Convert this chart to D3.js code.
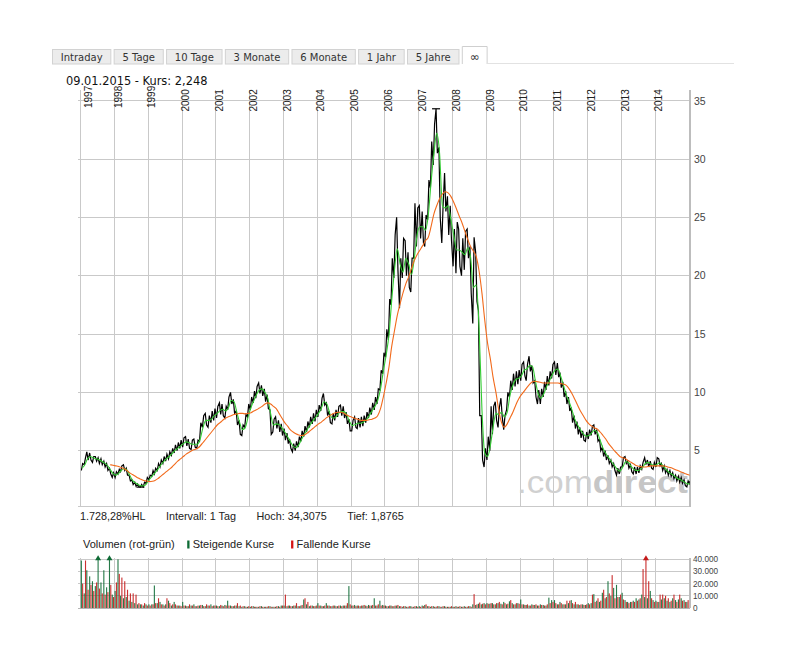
<!DOCTYPE html>
<html><head><meta charset="utf-8">
<script src="https://cdn.jsdelivr.net/npm/d3@7"></script>
<style>body{margin:0;background:#fff;} svg{display:block}</style>
</head><body>
<svg id="c" width="796" height="658"></svg>
<script>
// ---------- data ----------
const tabs = ["Intraday","5 Tage","10 Tage","3 Monate","6 Monate","1 Jahr","5 Jahre","∞"];
const activeTab = "∞";
const headerText = "09.01.2015 - Kurs: 2,248";
const stats = ["1.728,28%HL","Intervall: 1 Tag","Hoch: 34,3075","Tief: 1,8765"];
const legendTitle = "Volumen (rot-grün)";
const legendItems = ["Steigende Kurse","Fallende Kurse"];
const watermark = [".com","direct"];
const hoch = 34.3075, tief = 1.8765;
const years = d3.range(1997, 2015);
const priceTicks = [5,10,15,20,25,30,35];
const volTicks = [10000,20000,30000,40000];
const volLabelTicks = [0,10000,20000,30000,40000];
const firstMonth = [1997, 0];
const lastDay = [2015, 0, 9];

// monthly high / low of the daily price, Jan 1997 .. Jan 2015
const priceHi = [
 3.9,4.4,4.9,4.8,4.5,4.5,4.4,4.3,4.1,3.9,3.5,3.1,
 3.2,3.4,3.7,3.8,3.5,2.9,2.5,2.3,2.15,2.1,2.3,2.7,
 2.9,3.3,3.5,3.9,4.2,4.5,4.7,4.9,5.2,5.5,5.7,5.9,
 6.1,6.2,6.0,5.9,6.0,5.9,7.4,8.0,8.2,8.0,8.4,8.6,
 8.8,9.1,9.0,8.8,9.6,10.0,9.4,8.4,7.6,7.2,8.1,9.0,
 9.6,10.1,10.5,10.8,10.6,10.3,9.8,8.5,7.7,7.9,7.6,7.3,
 6.9,6.5,6.0,5.6,5.8,6.2,6.7,7.1,7.5,7.9,8.2,8.5,
 8.9,9.5,9.9,9.1,8.4,8.2,8.5,8.8,8.9,8.8,8.3,7.7,
 7.6,7.9,7.8,7.9,8.0,8.3,8.7,9.1,9.6,10.3,11.9,13.4,
 15.4,18.0,21.5,23.5,25.0,21.5,23.2,23.0,22.0,21.5,26.2,25.8,
 26.0,25.5,25.2,28.2,31.5,33.0,34.3075,31.0,26.0,28.8,26.8,26.0,
 24.0,24.6,24.0,23.2,23.8,24.0,22.5,23.3,22.0,17.0,8.0,5.2,
 6.2,8.8,8.8,9.2,8.7,9.5,8.0,10.0,11.0,11.6,11.8,11.9,
 12.4,12.6,12.4,13.1,12.3,11.0,10.2,10.3,10.9,11.4,11.8,12.4,
 12.6,12.5,11.7,10.9,10.1,9.6,8.7,8.0,7.5,7.0,6.7,6.6,
 6.8,7.1,7.2,6.8,6.0,5.3,5.0,4.6,4.2,3.9,3.5,3.6,
 4.4,4.5,4.1,3.8,3.6,3.6,3.7,4.0,4.4,4.2,4.1,4.0,
 4.4,4.3,3.9,3.7,3.4,3.3,3.1,2.9,2.8,2.7,2.5,2.4,
 2.4];
const priceLo = [
 3.3,3.8,4.2,4.2,4.0,4.1,3.9,3.8,3.6,3.3,3.0,2.7,
 2.7,3.0,3.2,3.3,2.9,2.4,2.1,1.95,1.9,1.8765,1.9,2.2,
 2.5,2.8,3.0,3.3,3.6,3.9,4.1,4.3,4.6,4.8,5.0,5.2,
 5.3,5.4,5.2,5.1,5.3,5.2,5.8,7.0,7.2,7.0,7.4,7.6,
 7.8,8.1,8.0,7.8,8.5,9.0,8.2,7.2,6.4,6.3,7.0,7.9,
 8.5,9.1,9.5,9.9,9.7,9.2,8.6,6.4,6.6,6.9,6.6,6.3,
 5.9,5.6,5.2,4.9,5.0,5.3,5.8,6.2,6.6,7.0,7.3,7.5,
 7.9,8.4,8.9,8.0,7.4,7.3,7.6,7.9,8.0,7.8,7.3,6.7,
 6.7,7.0,6.9,7.0,7.1,7.4,7.8,8.1,8.5,9.0,10.2,11.6,
 13.0,14.5,17.5,19.8,20.5,17.2,19.8,20.0,19.0,18.6,21.5,22.5,
 23.2,22.8,22.5,24.8,27.5,29.5,30.5,25.0,22.8,25.5,23.5,23.0,
 20.8,20.2,20.8,20.0,20.5,21.5,18.5,15.9,17.8,8.0,4.2,3.6,
 4.2,5.0,6.4,7.6,7.0,7.9,6.8,8.5,9.6,10.2,10.5,10.7,
 11.0,11.4,11.0,11.8,10.8,9.6,9.0,9.0,9.6,10.2,10.6,11.2,
 11.5,11.3,10.4,9.6,9.0,8.4,7.4,6.9,6.4,6.1,5.9,5.8,
 6.0,6.3,6.4,5.8,5.0,4.5,4.2,3.9,3.6,3.3,2.9,3.0,
 3.6,3.9,3.5,3.2,3.0,3.0,3.1,3.4,3.8,3.6,3.5,3.4,
 3.6,3.7,3.3,3.1,2.9,2.8,2.6,2.4,2.3,2.2,2.0,1.9,
 2.1];
// short moving average (green), monthly
const gd38 = [
 3.5,3.8,4.3,4.5,4.4,4.3,4.25,4.1,3.95,3.75,3.4,3.05,
 2.9,3.05,3.3,3.45,3.35,2.9,2.45,2.25,2.08,1.98,1.98,2.2,
 2.55,2.85,3.1,3.4,3.75,4.05,4.3,4.5,4.75,5.0,5.2,5.4,
 5.6,5.75,5.7,5.55,5.55,5.55,6.0,7.0,7.6,7.6,7.7,8.0,
 8.2,8.45,8.55,8.4,8.65,9.3,9.2,8.3,7.4,6.8,7.0,7.9,
 8.7,9.3,9.8,10.2,10.3,10.0,9.5,8.2,7.2,7.3,7.25,6.95,
 6.6,6.2,5.8,5.4,5.25,5.5,5.95,6.4,6.8,7.2,7.55,7.85,
 8.2,8.65,9.2,9.0,8.2,7.8,7.85,8.15,8.35,8.35,8.05,7.5,
 7.15,7.25,7.35,7.35,7.45,7.65,8.0,8.4,8.8,9.3,10.3,11.8,
 13.2,15.0,17.8,20.5,22.3,21.0,20.3,21.5,21.0,20.1,21.5,23.5,
 24.2,24.2,23.9,25.2,28.0,30.5,32.2,30.5,26.0,25.8,26.0,24.8,
 23.5,22.2,22.2,22.0,21.8,22.4,21.6,19.0,19.2,15.5,8.5,4.8,
 4.5,5.5,7.0,8.2,8.1,8.3,7.9,8.3,9.8,10.6,11.1,11.2,
 11.4,11.9,12.0,12.3,12.2,11.0,9.9,9.5,9.9,10.5,11.0,11.5,
 11.9,12.0,11.4,10.6,9.8,9.2,8.5,7.7,7.2,6.8,6.45,6.25,
 6.3,6.55,6.75,6.55,5.9,5.2,4.75,4.4,4.05,3.75,3.4,3.25,
 3.6,4.05,4.0,3.65,3.4,3.3,3.35,3.55,3.9,4.0,3.85,3.75,
 3.8,3.95,3.8,3.5,3.25,3.05,2.9,2.7,2.55,2.45,2.3,2.15,
 2.15];
// long moving average (orange), monthly
const gd200 = [
 null,null,null,null,null,null,null,null,null,null,3.8,3.75,
 3.7,3.65,3.55,3.45,3.3,3.1,2.95,2.8,2.65,2.55,2.45,2.4,
 2.35,2.38,2.45,2.6,2.8,3.0,3.2,3.4,3.6,3.85,4.1,4.3,
 4.5,4.7,4.85,5.0,5.1,5.2,5.4,5.7,6.0,6.3,6.6,6.9,
 7.2,7.4,7.6,7.8,7.9,8.0,8.1,8.15,8.2,8.2,8.15,8.2,
 8.25,8.4,8.5,8.65,8.8,9.0,9.1,9.0,8.8,8.6,8.2,7.8,
 7.4,7.1,6.8,6.6,6.45,6.35,6.3,6.35,6.5,6.7,6.9,7.1,
 7.3,7.45,7.65,7.85,8.0,8.15,8.25,8.3,8.3,8.2,8.05,7.95,
 7.85,7.75,7.7,7.6,7.6,7.6,7.65,7.7,7.8,8.0,8.6,9.6,
 10.8,12.2,13.9,15.3,16.6,17.6,18.5,19.3,19.9,20.6,21.3,21.8,
 22.2,22.6,23.0,23.3,24.2,25.3,26.0,26.6,27.0,27.2,27.1,26.8,
 26.3,25.7,25.1,24.5,23.8,23.1,22.5,22.1,21.6,20.4,18.5,16.2,
 14.2,12.8,11.3,10.0,8.5,7.4,7.0,7.3,7.8,8.3,8.9,9.4,
 9.8,10.1,10.4,10.7,10.9,10.95,10.9,10.85,10.8,10.8,10.8,10.8,
 10.8,10.8,10.75,10.7,10.6,10.3,9.9,9.4,8.9,8.4,8.0,7.6,
 7.3,7.1,6.95,6.85,6.6,6.3,6.0,5.6,5.3,5.0,4.75,4.5,
 4.4,4.3,4.15,4.0,3.85,3.7,3.65,3.6,3.6,3.65,3.7,3.7,
 3.7,3.7,3.7,3.68,3.6,3.55,3.45,3.35,3.25,3.15,3.05,2.95,
 2.9];
// monthly peak volume (thousands) on rising / falling days
const volUp = [
 39,12,31,26,22,18,50,21,31,17,50,11,
 14,40,10,8,9,6,5,4,3,3,2,3,
 3,3,18.5,4,5,3,3,6,2,5,2,2,
 5,2,1.5,2,3,1.5,2,2.5,1.5,2,3,2,
 2,1.5,2,2.5,6,2,1.5,2,1.5,1,1.5,1,
 1,1.5,1,1,1.5,1,1,1.5,1,1,1.5,2,
 2,1.5,2,1.5,2,1.5,2,7,3,1.5,2,1.5,
 4,2,1.5,4,2,1.5,2,1.5,2,2,2,18,
 2,2.5,2,1.5,2,2,2.5,2,8,2,6,2.5,
 2,1.5,2,1.5,2,1.5,1,1.5,1,1.5,1,1.5,
 1.5,2,2.5,1.5,1,1.5,1,1.5,1,1.5,1,1,
 1,1.5,1,1,1.5,1,1.5,3,2.5,3.5,3,4,
 4,3.5,4,3,4,3.5,5,3,5.5,4,3,4,
 7,3,2.5,2,3,2.5,2,3,2.5,2,8.5,6.5,
 6.5,3,5,3,3,4,6.5,3,3,2.5,3,2.5,
 4,4,11.4,6,5,12.5,8,22,10,16.5,19,9,
 12.5,6.5,5,5,6,8,7,11,9,8,14,6.5,
 6,5,7,8,6,5,8,6.5,7,8,6.5,5,
 4];
const volDown = [
 20,39,15,19,14,21,16,12,11,13,19,9,
 21,28,25,22,15,12,12,11,4,3,4,2,
 2,3,4,8,3,2,8,4,3,3,2,1.5,
 2,1.5,3,2,1.5,2,2.5,1.5,3,2,1.5,2,
 1.5,2.5,1.5,2,2,1.5,2,4,2,1.5,1,1.5,
 1.5,1,1,1.5,1,1,1.5,1,1,1.5,1,2,
 11,2,1.5,2,4,1.5,2.5,8,5,2,1.5,2,
 2,1.5,2,2,1.5,2,1.5,2,1.5,2,4,3,
 2,1.5,2,2,2.5,1.5,2,2.5,2,3,2,2,
 1.5,2,1.5,2,2.5,1.5,1.5,1,1.5,1,1.5,1,
 1,1.5,3,1.5,1.5,1,1.5,1,1.5,1,1,1.5,
 1,1,1.5,1,1,1.5,1,11.4,3,4.5,3.5,3,
 3.5,4,3,4,5,3,4,3.5,6.5,3,4,3.5,
 3,2.5,3,2,2.5,3,2,2.5,2,3,4,5,
 4,3,4,3,6,6,4,5,3,3,2.5,3,
 3,11,5,8,6,15,9,12,27,8,9,11,
 7,5,4,5,5,6,8,32,50,22,8,5,
 5,11,11,10,8,6,11,5,11,6,5,6.5,
 5];

// ---------- layout ----------
const svg = d3.select("#c");
const X0 = 80.7, X1 = 689.8;
const plotTop = 90, plotBottom = 506;
const volTop = 557.5, volBottom = 608;
const gridCol = "#c9c9c9";
const endDate = new Date(lastDay[0], lastDay[1], lastDay[2]);
const startDate = new Date(firstMonth[0], firstMonth[1], 1);
const mDate = (i, day) => {
  const d = new Date(firstMonth[0], firstMonth[1] + i, day);
  return d > endDate ? endDate : d;
};

const x = d3.scaleTime().domain([startDate, endDate]).range([X0, X1]);
const y = d3.scaleLinear().domain([0, 35]).range([509, 100.7]);
const vy = d3.scaleLinear().domain([0, 40000]).range([volBottom, 559.3]);
const deFmt = d3.formatLocale({decimal: ",", thousands: ".", grouping: [3], currency: ["", "€"]}).format(",");

// ---------- tabs ----------
const tabG = svg.append("g");
const meas = tabG.append("text").attr("font-family", "DejaVu Sans").attr("font-size", 10);
let tx = 52;
const tabBoxes = tabs.map(t => {
  meas.text(t);
  const w = meas.node().getComputedTextLength() + 17.5;
  const b = {t, x: tx, w, active: t === activeTab};
  tx += w + 2.3;
  return b;
});
meas.remove();
tabBoxes.forEach(b => {
  const top = b.active ? 46 : 49.5;
  if (b.active) {
    tabG.append("rect").attr("x", b.x).attr("y", top).attr("width", b.w).attr("height", 64 - top)
      .attr("fill", "#fff");
    tabG.append("path").attr("d", `M${b.x + 0.5},64 V${top + 0.5} H${b.x + b.w - 0.5} V64`)
      .attr("fill", "none").attr("stroke", "#cfcfcf");
  } else {
    tabG.append("rect").attr("x", b.x + 0.5).attr("y", top).attr("width", b.w - 1).attr("height", 64 - top)
      .attr("fill", "#ececec").attr("stroke", "#d2d2d2");
  }
  tabG.append("text").attr("x", b.x + b.w / 2).attr("y", 61).attr("text-anchor", "middle")
    .attr("font-family", "DejaVu Sans").attr("font-size", b.active ? 12 : 10).attr("fill", "#333").text(b.t);
});
const lastTab = tabBoxes[tabBoxes.length - 1];
svg.append("line").attr("x1", lastTab.x + lastTab.w).attr("x2", 734).attr("y1", 63.5).attr("y2", 63.5)
  .attr("stroke", "#e2e2e2");

svg.append("text").attr("x", 66).attr("y", 85).attr("font-family", "DejaVu Sans").attr("font-size", 11.4)
  .attr("fill", "#111").text(headerText);

// ---------- main plot grid ----------
const grid = svg.append("g").attr("shape-rendering", "crispEdges");
years.forEach(yr => {
  const xx = x(new Date(yr, 0, 1));
  grid.append("line").attr("x1", xx).attr("x2", xx).attr("y1", plotTop).attr("y2", plotBottom).attr("stroke", gridCol);
  grid.append("line").attr("x1", xx).attr("x2", xx).attr("y1", volTop).attr("y2", volBottom).attr("stroke", gridCol);
});
priceTicks.forEach(v => {
  grid.append("line").attr("x1", 77.5).attr("x2", X1).attr("y1", y(v)).attr("y2", y(v)).attr("stroke", gridCol);
});
grid.append("line").attr("x1", 77.5).attr("x2", X1).attr("y1", plotBottom).attr("y2", plotBottom).attr("stroke", gridCol);
grid.append("line").attr("x1", X1).attr("x2", X1).attr("y1", plotTop).attr("y2", plotBottom + 1)
  .attr("stroke", "#bdbdbd").attr("stroke-width", 2);

// price axis labels
svg.append("g").selectAll("text").data(priceTicks).join("text")
  .attr("x", 694).attr("y", d => y(d) + 3.8)
  .attr("font-family", "Liberation Sans, Arial, sans-serif").attr("font-size", 10.5).attr("fill", "#444")
  .text(d => d);

// year labels (rotated)
svg.append("g").selectAll("text").data(years).join("text")
  .attr("transform", (d, i) => `translate(${x(new Date(d, 0, 1)) + 7.2 + (i === 0 ? 4 : 0)},${d < 2000 ? 108 : 111.5}) rotate(-90)`)
  .attr("font-family", "Liberation Sans, Arial, sans-serif").attr("font-size", 10).attr("fill", "#222")
  .text(d => d);

// watermark
const wm = svg.append("text").attr("x", 517).attr("y", 492.5)
  .attr("font-family", "Liberation Sans, Arial, sans-serif").attr("font-size", 31)
  .attr("textLength", 171).attr("lengthAdjust", "spacingAndGlyphs");
wm.append("tspan").attr("fill", "#d0d0d0").text(watermark[0]);
wm.append("tspan").attr("fill", "#c6c6c6").attr("font-weight", "bold").text(watermark[1]);

// ---------- price lines ----------
svg.append("clipPath").attr("id", "pc").append("rect")
  .attr("x", X0).attr("y", plotTop).attr("width", X1 - X0).attr("height", plotBottom - plotTop);
const pg = svg.append("g").attr("clip-path", "url(#pc)");

const pts = [];
priceHi.forEach((h, i) => {
  const l = priceLo[i];
  const cur = h + l;
  const nxt = i + 1 < priceHi.length ? priceHi[i + 1] + priceLo[i + 1] : cur;
  let d1 = mDate(i, 8), d2 = mDate(i, 22);
  if (+d1 === +d2) d1 = new Date(+d2 - 4 * 864e5);
  if (nxt >= cur) { pts.push([d1, l]); pts.push([d2, h]); }
  else { pts.push([d1, h]); pts.push([d2, l]); }
});
pg.append("path").datum(pts)
  .attr("d", d3.line().x(d => x(d[0])).y(d => y(d[1])))
  .attr("fill", "none").attr("stroke", "#000").attr("stroke-width", 1.2).attr("stroke-linejoin", "miter");

const maLine = d3.line().defined(d => d != null).x((d, i) => x(mDate(i, 15))).y(d => y(d)).curve(d3.curveMonotoneX);
pg.append("path").datum(gd38).attr("d", maLine).attr("fill", "none").attr("stroke", "#33cc33").attr("stroke-width", 1.1);
pg.append("path").datum(gd200).attr("d", maLine).attr("fill", "none").attr("stroke", "#f26a1b").attr("stroke-width", 1.1);

// high / low markers
const iHi = d3.maxIndex(priceHi), iLo = d3.minIndex(priceLo);
const hiPt = pts.find(p => p[1] === priceHi[iHi]);
const loPt = pts.find(p => p[1] === priceLo[iLo]);
[[hiPt, hoch], [loPt, tief]].forEach(([p, v]) => {
  svg.append("line").attr("x1", x(p[0]) - 4).attr("x2", x(p[0]) + 4).attr("y1", y(v)).attr("y2", y(v))
    .attr("stroke", "#000").attr("stroke-width", 1.2);
});

// ---------- stats row ----------
let sx = 80;
stats.forEach(s => {
  const t = svg.append("text").attr("x", sx).attr("y", 520)
    .attr("font-family", "Liberation Sans, Arial, sans-serif").attr("font-size", 10.8).attr("fill", "#222").text(s);
  sx += t.node().getComputedTextLength() + 20.5;
});

// ---------- legend ----------
let lx = 83;
const lt = svg.append("text").attr("x", lx).attr("y", 548)
  .attr("font-family", "Liberation Sans, Arial, sans-serif").attr("font-size", 11).attr("fill", "#222").text(legendTitle);
lx += lt.node().getComputedTextLength() + 12.5;
const legCols = ["#0e6b35", "#d51515"];
legendItems.forEach((s, k) => {
  svg.append("rect").attr("x", lx).attr("y", 540.5).attr("width", 2.3).attr("height", 8).attr("fill", legCols[k]);
  const t = svg.append("text").attr("x", lx + 5.5).attr("y", 548)
    .attr("font-family", "Liberation Sans, Arial, sans-serif").attr("font-size", 11).attr("fill", "#222").text(s);
  lx += 5.5 + t.node().getComputedTextLength() + 17;
});

// ---------- volume ----------
volTicks.forEach(v => {
  grid.append("line").attr("x1", 77.5).attr("x2", X1).attr("y1", vy(v)).attr("y2", vy(v)).attr("stroke", gridCol);
});
grid.append("line").attr("x1", 77.5).attr("x2", X1).attr("y1", volBottom).attr("y2", volBottom).attr("stroke", "#b5b5b5");
grid.append("line").attr("x1", X1).attr("x2", X1).attr("y1", volTop).attr("y2", volBottom)
  .attr("stroke", "#bdbdbd").attr("stroke-width", 2);
svg.append("g").selectAll("text").data(volLabelTicks).join("text")
  .attr("x", 693).attr("y", d => vy(d) + 3)
  .attr("font-family", "Liberation Sans, Arial, sans-serif").attr("font-size", 8.2).attr("fill", "#444")
  .text(d => deFmt(d));

const vg = svg.append("g");
const vmax = vy.domain()[1];
function volBars(arr, d0, d1, col) {
  arr.forEach((v, i) => {
    const xa = x(mDate(i, d0)), xb = Math.min(x(mDate(i, d1)), X1 - 1);
    const val = v * 1000;
    const top = vy(Math.min(val, vmax));
    if (xb <= xa) return;
    vg.append("rect").attr("x", xa).attr("y", top).attr("width", xb - xa).attr("height", volBottom - top)
      .attr("fill", col).attr("opacity", 0.9);
    if (val > vmax) {
      const cx = (xa + xb) / 2;
      vg.append("path").attr("d", `M${cx - 3},${top + 1} L${cx},${top - 4} L${cx + 3},${top + 1} Z`).attr("fill", col);
    }
  });
}
volBars(volUp, 2, 14, "#0e6b35");
volBars(volDown, 16, 28, "#c41a1a");
</script>
</body></html>
